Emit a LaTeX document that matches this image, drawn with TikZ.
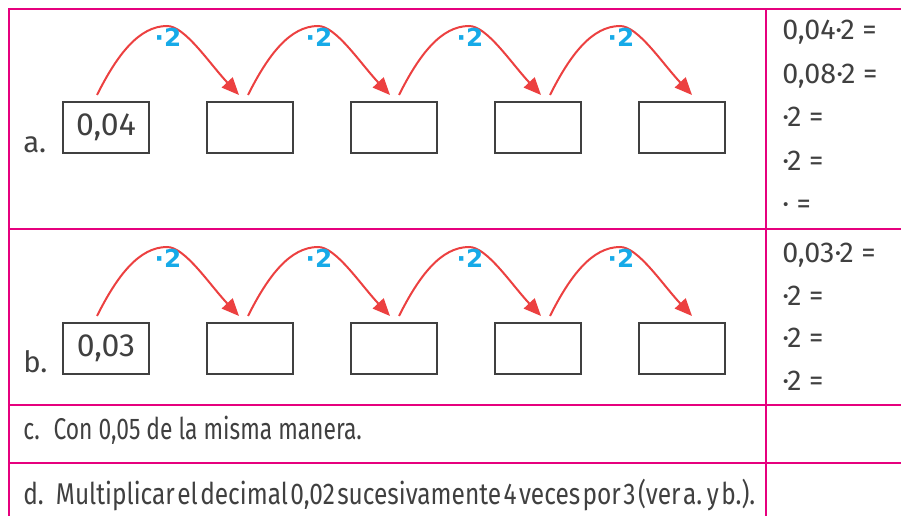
\documentclass[tikz,border=0pt]{standalone}
\usepackage{fontspec}
\usepackage{graphicx}
\setmainfont{Fira Sans}
\newfontfamily\factorfont{DejaVu Sans}
\usetikzlibrary{arrows.meta,positioning,calc}

\definecolor{gridpink}{RGB}{230,0,126}
\definecolor{jumpred}{RGB}{236,64,64}
\definecolor{factorblue}{RGB}{22,170,232}
\definecolor{inkgray}{RGB}{64,64,64}

\tikzset{
  gridline/.style={draw=gridpink, line width=2.2pt},
  cell/.style={draw=inkgray, line width=2pt, minimum width=64.5pt, minimum height=38.25pt,
    inner sep=0pt, outer sep=0pt, text=inkgray, font=\fontsize{24}{26}\selectfont},
  jump/.style={draw=jumpred, line width=1.5pt, -{Triangle[length=13pt,width=11pt]}},
  factor/.style={text=factorblue, inner sep=0pt, font=\factorfont\bfseries\fontsize{18.5}{18}\selectfont},
  rowlabel/.style={anchor=base west, inner sep=0pt, text=inkgray, font=\fontsize{22}{24}\selectfont},
  sumline/.style={anchor=base west, inner sep=0pt, text=inkgray, font=\fontsize{21.5}{22}\selectfont},
  taskline/.style={anchor=base west, inner sep=0pt, text=inkgray, font=\fontsize{22.5}{24}\selectfont},
}

\begin{document}
\begin{tikzpicture}[x=0.75pt, y=-0.75pt]
  \useasboundingbox[fill=white] (0,0) rectangle (901,516);

  % Table lines
  \draw[gridline] (9,516) -- (9,9) -- (901,9);
  \draw[gridline] (766,9) -- (766,516);
  \foreach \y in {229,405,463}
    \draw[gridline] (9,\y) -- (901,\y);

  % Row a: boxes
  \node[cell] (a1) at (106,127.5) {0,04};
  \foreach \k [count=\p] in {2,...,5}
    \node[cell, right=43.5pt of a\p] (a\k) {};
  % Row b: boxes
  \node[cell] (b1) at (106,348.5) {0,03};
  \foreach \k [count=\p] in {2,...,5}
    \node[cell, right=43.5pt of b\p] (b\k) {};

  % Jumps with the factor
  \foreach \r in {a,b}
    \foreach \k [count=\n from 2] in {1,...,4} {
      \coordinate (\r\k-top) at ($(\r\k.north)+(54+7*\k,-76)$);
      \draw[jump] ($(\r\k.north)+(-16+7*\k,-7)$) .. controls +(20,-40) and +(-28,0) .. (\r\k-top)
        .. controls +(18,0) and +(-30,-32) .. ($(\r\n.north)+(-18+7*\k,-7)$);
      \node[factor] (\r\k-by) at ($(\r\k-top)+(1,11)$) {·2};
    }

  % Row labels
  \node[rowlabel] (la) at (23,153) {a.};
  \node[rowlabel] (lb) at (23,373) {b.};

  % Right column
  \foreach \t [count=\i] in {{0,04·2 =},{0,08·2 =},{·2 =},{·2 =},{· =}}
    \node[sumline] (sa\i) at (782,{40+43.5*(\i-1)}) {\t};
  \foreach \t [count=\i] in {{0,03·2 =},{·2 =},{·2 =},{·2 =}}
    \node[sumline] (sb\i) at (782,{263+42.5*(\i-1)}) {\t};

  % Rows c and d (d is squeezed in the print)
  \node[taskline] (tc) at (23,440)
    {\resizebox{254pt}{\height}{c.\hspace{.6em}Con 0,05 de la misma manera.}};
  \node[taskline] (td) at (23,505)
    {\resizebox{549pt}{\height}{\spaceskip=.1em d.\hspace{.5em}Multiplicar el decimal 0,02 sucesivamente 4 veces por 3 (ver a. y b.).}};
\end{tikzpicture}
\end{document}
